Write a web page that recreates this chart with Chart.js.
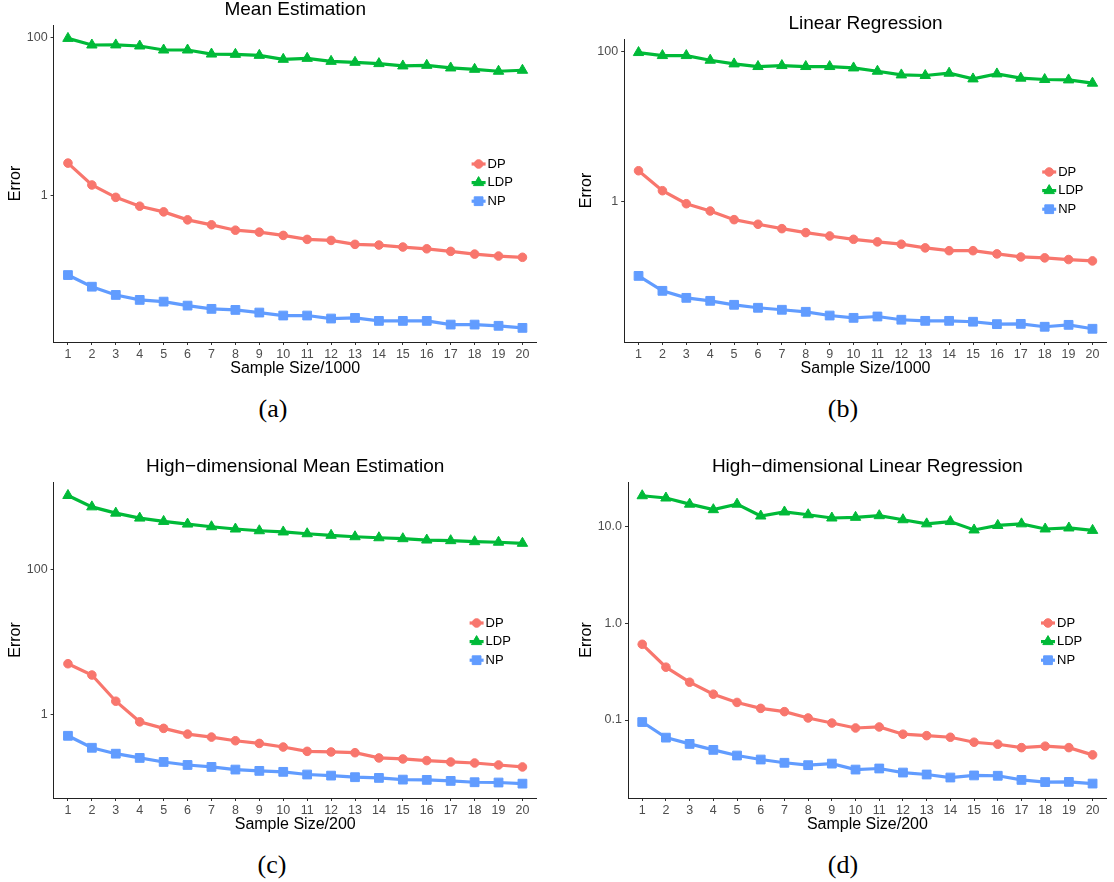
<!DOCTYPE html>
<html>
<head>
<meta charset="utf-8">
<script src="https://cdn.jsdelivr.net/npm/chart.js@4.4.0/dist/chart.umd.min.js"></script>
<style>
  body { margin: 0; background: #fff; width: 1114px; height: 882px; position: relative; overflow: hidden; }
  canvas { position: absolute; }
  .cap { position: absolute; font-family: 'Liberation Serif', 'DejaVu Serif', serif; font-size: 26px; color: #000; transform: translate(-50%, -50%); }
</style>
</head>
<body>
<canvas id="chart-a" width="544" height="385" style="left:0px;top:0px"></canvas>
<canvas id="chart-b" width="543" height="371" style="left:571px;top:14px"></canvas>
<canvas id="chart-c" width="544" height="384" style="left:0px;top:457px"></canvas>
<canvas id="chart-d" width="543" height="384" style="left:571px;top:457px"></canvas>
<div class="cap" style="left:273px;top:409px">(a)</div>
<div class="cap" style="left:843px;top:409px">(b)</div>
<div class="cap" style="left:272px;top:865px">(c)</div>
<div class="cap" style="left:843px;top:865px">(d)</div>
<script>
// x categories (sample size in units)
const sampleSteps = [1, 2, 3, 4, 5, 6, 7, 8, 9, 10, 11, 12, 13, 14, 15, 16, 17, 18, 19, 20];

// (a) Mean Estimation
const meanDP  = [2.56, 1.35, 0.94, 0.726, 0.615, 0.487, 0.421, 0.360, 0.340, 0.309, 0.275, 0.267, 0.238, 0.233, 0.220, 0.209, 0.194, 0.179, 0.169, 0.163];
const meanLDP = [98, 80.8, 81, 78.5, 69.8, 69.8, 62, 61.5, 59.7, 53.2, 54.7, 50.1, 48.7, 46.9, 43.8, 44.6, 41.3, 39.7, 37.5, 38.6];
const meanNP  = [0.097, 0.069, 0.0542, 0.0469, 0.0446, 0.0397, 0.0361, 0.035, 0.0324, 0.0297, 0.0297, 0.0272, 0.0277, 0.0254, 0.0254, 0.0254, 0.0228, 0.0228, 0.022, 0.0207];

// (b) Linear Regression
const linDP  = [2.58, 1.40, 0.94, 0.752, 0.577, 0.501, 0.438, 0.388, 0.350, 0.316, 0.292, 0.272, 0.243, 0.223, 0.223, 0.202, 0.184, 0.179, 0.170, 0.163];
const linLDP = [96.4, 87.9, 87.9, 76.2, 68.1, 62.8, 64.7, 62.8, 62.8, 60.2, 54.4, 48.6, 47.7, 51.2, 43, 50.1, 44, 42.2, 41.7, 37.7];
const linNP  = [0.103, 0.0652, 0.0526, 0.048, 0.0425, 0.0388, 0.0365, 0.0343, 0.0306, 0.0285, 0.0297, 0.0269, 0.026, 0.026, 0.0253, 0.0235, 0.0237, 0.0217, 0.023, 0.0204];

// (c) High-dimensional Mean Estimation
const hdMeanDP  = [4.97, 3.47, 1.51, 0.784, 0.637, 0.531, 0.483, 0.430, 0.395, 0.352, 0.307, 0.301, 0.294, 0.249, 0.241, 0.229, 0.219, 0.212, 0.199, 0.187];
const hdMeanLDP = [1042, 726, 595, 508, 457, 420, 386, 359, 340, 327, 309, 294, 281, 272, 264, 253, 248, 240, 236, 228];
const hdMeanNP  = [0.503, 0.344, 0.285, 0.249, 0.219, 0.199, 0.187, 0.172, 0.165, 0.160, 0.147, 0.142, 0.135, 0.132, 0.125, 0.124, 0.120, 0.115, 0.114, 0.110];

// (d) High-dimensional Linear Regression
const hdLinDP  = [0.607, 0.352, 0.246, 0.185, 0.152, 0.132, 0.122, 0.105, 0.093, 0.0827, 0.0847, 0.0713, 0.0689, 0.0663, 0.0589, 0.0561, 0.0518, 0.0536, 0.0518, 0.0436];
const hdLinLDP = [20.9, 19.8, 17.1, 15.0, 17.1, 12.9, 14.2, 13.3, 12.3, 12.5, 13.0, 11.8, 10.7, 11.3, 9.25, 10.3, 10.7, 9.47, 9.70, 9.16];
const hdLinNP  = [0.0953, 0.0657, 0.0566, 0.0491, 0.0429, 0.039, 0.0361, 0.0341, 0.0354, 0.0307, 0.0315, 0.0286, 0.0273, 0.0254, 0.0267, 0.0265, 0.024, 0.0228, 0.0229, 0.022];

// y tick values / labels
const yTicksHundred = [1, 100];
const yLabelsHundred = ['1', '100'];
const yTicksDecades = [0.1, 1, 10];
const yLabelsDecades = ['0.1', '1.0', '10.0'];

const FONT = '"Liberation Sans", Arial, Helvetica, sans-serif';
const DP_COLOR = '#F8766D';
const LDP_COLOR = '#00BA38';
const NP_COLOR = '#619CFF';

// title centred over the plot panel (ggplot style), not over the whole canvas
const panelTitle = {
    id: 'panelTitle',
    afterDraw(chart, args, opts) {
        const { ctx, chartArea } = chart;
        ctx.save();
        ctx.fillStyle = '#000';
        ctx.font = '19px ' + FONT;
        ctx.textAlign = 'center';
        ctx.textBaseline = 'middle';
        ctx.fillText(opts.text, (chartArea.left + chartArea.right) / 2, 10);
        ctx.restore();
    }
};

// legend drawn inside the plot area (line + marker + label)
const insideLegend = {
    id: 'insideLegend',
    afterDatasetsDraw(chart, args, opts) {
        const { ctx, chartArea } = chart;
        const x0 = chartArea.left + opts.x;
        const y0 = chartArea.top + opts.y;
        chart.data.datasets.forEach((ds, i) => {
            const y = y0 + i * opts.gap;
            ctx.save();
            ctx.strokeStyle = ds.borderColor;
            ctx.lineWidth = 3.2;
            ctx.beginPath();
            ctx.moveTo(x0 - 7, y);
            ctx.lineTo(x0 + 7, y);
            ctx.stroke();
            ctx.fillStyle = ds.backgroundColor;
            ctx.lineWidth = 1;
            Chart.helpers.drawPoint(ctx, { pointStyle: ds.pointStyle, radius: ds.pointRadius, rotation: 0, borderWidth: 1 }, x0, y);
            ctx.fillStyle = '#000';
            ctx.font = '13px ' + FONT;
            ctx.textAlign = 'left';
            ctx.textBaseline = 'middle';
            ctx.fillText(ds.label, x0 + 9, y);
            ctx.restore();
        });
    }
};

function series(label, values, color, style, radius) {
    return {
        label: label,
        data: sampleSteps.map((s, i) => ({ x: s, y: values[i] })),
        borderColor: color,
        backgroundColor: color,
        borderWidth: 3.2,
        pointStyle: style,
        pointRadius: radius,
        pointBorderWidth: 1,
        pointBackgroundColor: color,
        pointBorderColor: color,
        tension: 0
    };
}

function makePanel(id, cfg) {
    return new Chart(document.getElementById(id), {
        type: 'line',
        data: {
            datasets: [
                series('DP', cfg.dp, DP_COLOR, 'circle', 4.3),
                series('LDP', cfg.ldp, LDP_COLOR, 'triangle', 6),
                series('NP', cfg.np, NP_COLOR, 'rect', 6.2)
            ]
        },
        options: {
            responsive: false,
            animation: false,
            devicePixelRatio: 1,
            layout: { padding: { left: 0, right: cfg.padRight, top: 25, bottom: 0 } },
            plugins: {
                legend: { display: false },
                tooltip: { enabled: false },
                title: { display: false },
                panelTitle: { text: cfg.title },
                insideLegend: cfg.legend
            },
            scales: {
                x: {
                    type: 'linear',
                    bounds: 'data',
                    min: 0.4,
                    max: 20.6,
                    afterBuildTicks: s => { s.ticks = sampleSteps.map(v => ({ value: v })); },
                    afterFit: s => { s.height = 43; },
                    grid: { display: true, drawOnChartArea: false, drawTicks: true, tickLength: 3, color: '#333' },
                    border: { display: true, color: '#222', width: 1 },
                    ticks: { color: '#4D4D4D', font: { size: 12.5, family: FONT }, padding: 2, maxRotation: 0, autoSkip: false, callback: v => String(v) },
                    title: { display: true, text: cfg.xTitle, color: '#000', font: { size: 16, family: FONT }, padding: { top: 0, bottom: 7.1 } }
                },
                y: {
                    type: 'logarithmic',
                    bounds: 'data',
                    min: cfg.yMin,
                    max: cfg.yMax,
                    afterBuildTicks: s => { s.ticks = cfg.yTicks.map(v => ({ value: v })); },
                    afterFit: s => { s.width = cfg.yWidth; },
                    grid: { display: true, drawOnChartArea: false, drawTicks: true, tickLength: 3, color: '#333' },
                    border: { display: true, color: '#222', width: 1 },
                    ticks: { color: '#4D4D4D', font: { size: 12.5, family: FONT }, padding: 3, autoSkip: false, callback: (v, i) => cfg.yLabels[i] },
                    title: { display: true, text: 'Error', color: '#000', font: { size: 16, family: FONT }, padding: { top: 5.8, bottom: 0 } }
                }
            }
        },
        plugins: [panelTitle, insideLegend]
    });
}

makePanel('chart-a', {
    title: 'Mean Estimation', xTitle: 'Sample Size/1000',
    dp: meanDP, ldp: meanLDP, np: meanNP,
    yMin: 0.0137, yMax: 145, yTicks: yTicksHundred, yLabels: yLabelsHundred,
    yWidth: 53.6, padRight: 5,
    legend: { x: 425, y: 139, gap: 18.6 }
});
makePanel('chart-b', {
    title: 'Linear Regression', xTitle: 'Sample Size/1000',
    dp: linDP, ldp: linLDP, np: linNP,
    yMin: 0.0136, yMax: 146, yTicks: yTicksHundred, yLabels: yLabelsHundred,
    yWidth: 53.2, padRight: 4,
    legend: { x: 425, y: 133, gap: 18.6 }
});
makePanel('chart-c', {
    title: 'High\u2212dimensional Mean Estimation', xTitle: 'Sample Size/200',
    dp: hdMeanDP, ldp: hdMeanLDP, np: hdMeanNP,
    yMin: 0.0697, yMax: 1600, yTicks: yTicksHundred, yLabels: yLabelsHundred,
    yWidth: 53.6, padRight: 5,
    legend: { x: 423, y: 141, gap: 18.6 }
});
makePanel('chart-d', {
    title: 'High\u2212dimensional Linear Regression', xTitle: 'Sample Size/200',
    dp: hdLinDP, ldp: hdLinLDP, np: hdLinNP,
    yMin: 0.0156, yMax: 29, yTicks: yTicksDecades, yLabels: yLabelsDecades,
    yWidth: 57, padRight: 4,
    legend: { x: 420, y: 141, gap: 18.6 }
});
</script>
</body>
</html>
